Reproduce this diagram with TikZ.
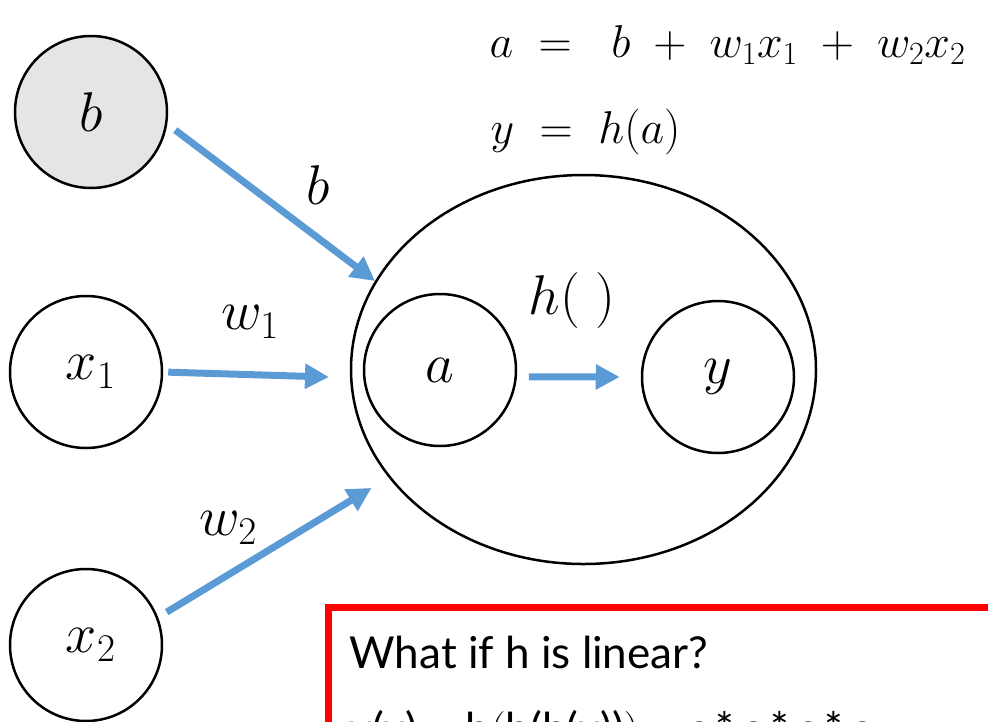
\RequirePackage{fix-cm}
\documentclass[tikz,border=0pt]{standalone}
\usepackage{fontspec}
\newfontfamily\boxfont{Lato}
\usetikzlibrary{shapes.geometric, arrows.meta}
\definecolor{arrowblue}{RGB}{91,155,213}
\definecolor{boxred}{RGB}{255,0,0}

\begin{document}
\begin{tikzpicture}[x=1pt, y=-1pt]
\tikzstyle{unit} = [circle, minimum size=152pt, inner sep=0pt, draw=black, line width=2.5pt, font=\fontsize{56}{66}\selectfont]
\tikzstyle{arrow} = [draw=arrowblue, line width=7pt, -{Triangle[length=24pt, width=24pt]}]
\tikzstyle{wlabel} = [font=\fontsize{56}{66}\selectfont]
\tikzstyle{eqn} = [anchor=west, font=\fontsize{46}{54}\selectfont]
\useasboundingbox (0,0) rectangle (988,721);
\clip (0,0) rectangle (988,721);

% Nodes
\node (b) [unit, fill=gray!20] at (91,112) {$b$};
\node (x1) [unit] at (86,372) {$\,x_1$};
\node (x2) [unit] at (86,645) {$\,x_2$};
\node (neuron) [ellipse, minimum width=465pt, minimum height=389pt, inner sep=0pt, draw=black, line width=2.5pt] at (583.5,369.5) {};
\node (a) [unit] at (440,370) {$a$};
\node (y) [unit] at (718,377) {$y$};

% Labels
\node (lb) [wlabel] at (318,185) {$b$};
\node (lw1) [wlabel] at (250,322) {$w_1$};
\node (lw2) [wlabel] at (228,528) {$w_2$};
\node (lh) [wlabel] at (572,300) {$h(\;)$};
\node (eqa) [eqn] at (486,45) {$a \;=\;\ b \;+\; w_1x_1 \;+\; w_2x_2$};
\node (eqy) [eqn] at (487,132) {$y \;=\; h(a)$};

% Arrows
\draw [arrow, shorten <=10pt] (b.-9) -- (neuron.157);
\draw [arrow, shorten <=5pt, shorten >=21pt] (x1.east) -- (neuron.182);
\draw [arrow, shorten <=10pt, shorten >=20pt] (x2.21) -- (neuron.209.5);
\draw [arrow, shorten <=12pt, shorten >=21pt] (a.-5) -- (y.west);

% Box
\draw [boxred, line width=7pt] (328,607) rectangle (1100,900);
\node (q) [anchor=base west, font=\boxfont\fontsize{44}{52}\selectfont] at (346,668) {What if h is linear?};
\node (q2) [anchor=base west, font=\boxfont\fontsize{44}{52}\selectfont] at (346,744) {y(x) = h$\Big($h(h(x))$\Big)$ = c\,*\,c\,*\,c\,*\,c};

\end{tikzpicture}
\end{document}
